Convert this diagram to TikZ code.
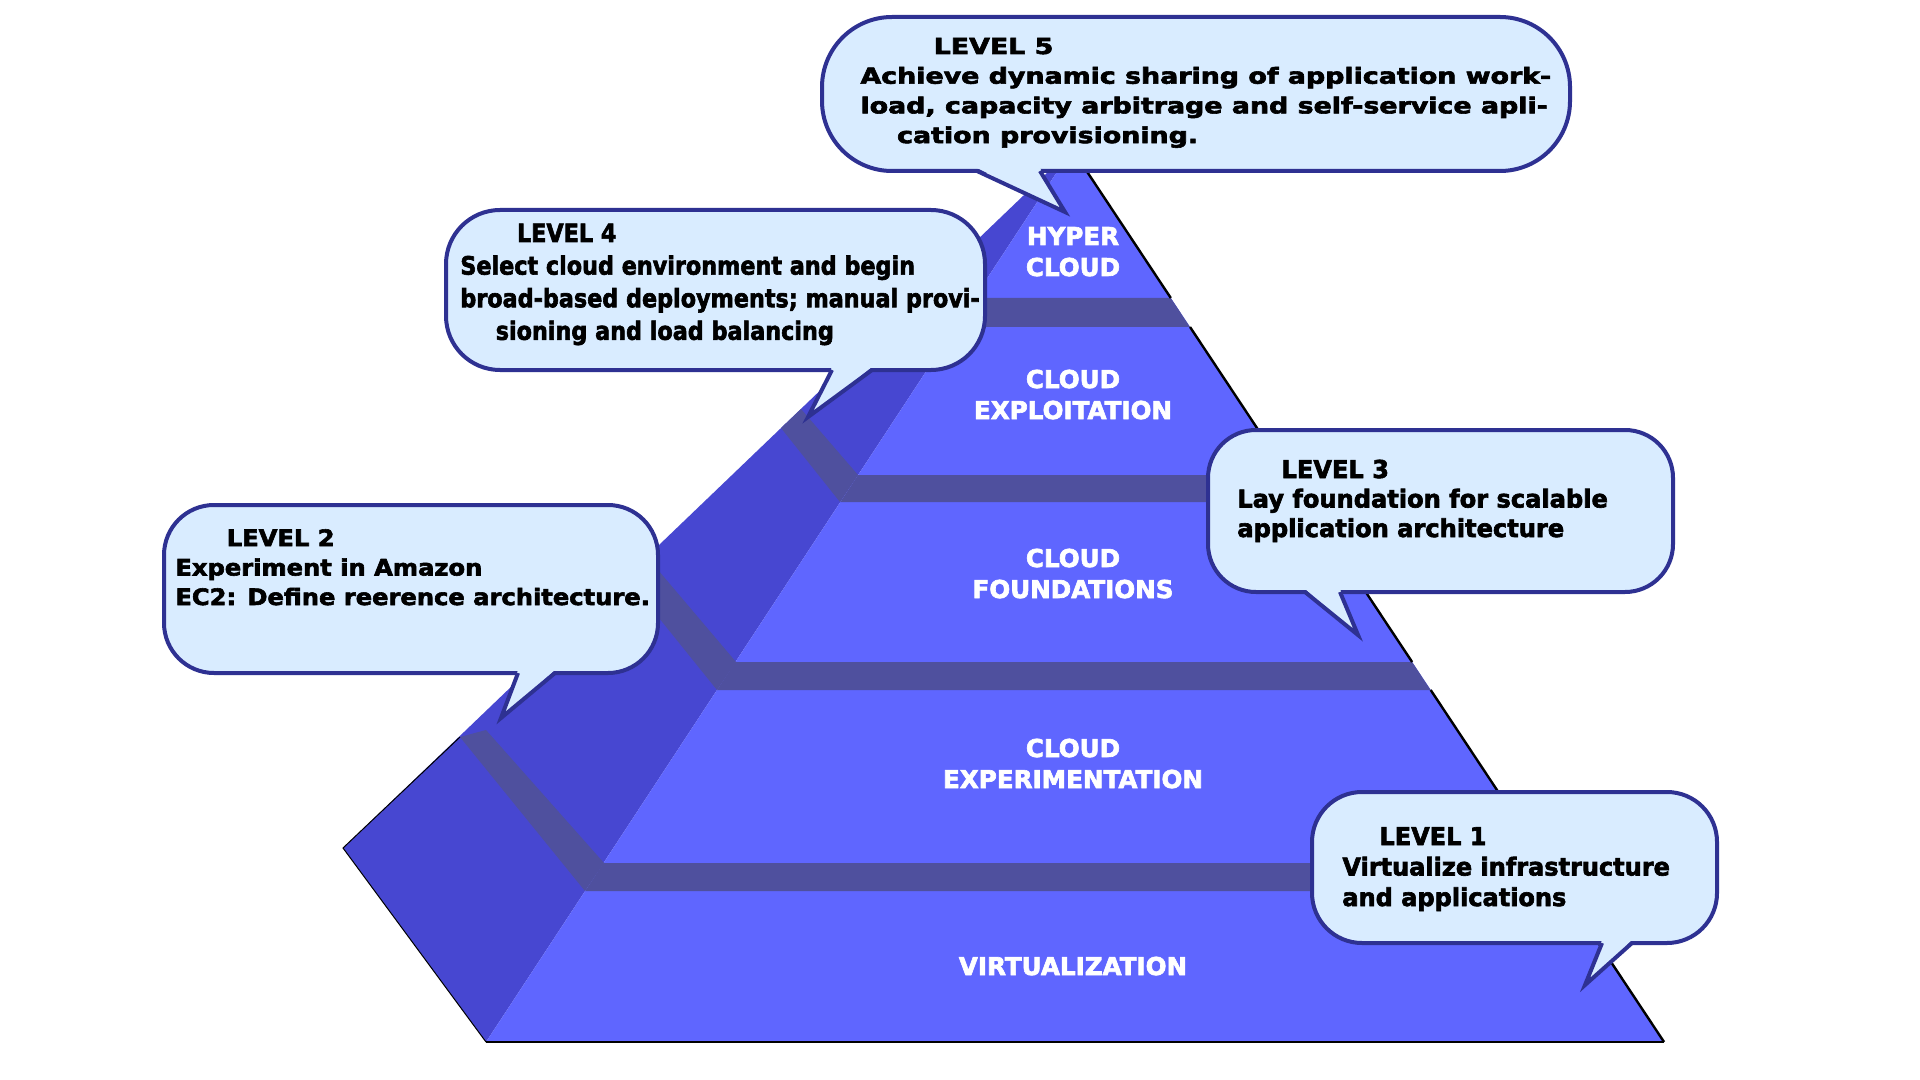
\documentclass[tikz,border=0pt]{standalone}
\usepackage{fontspec}
\setmainfont{DejaVu Sans}[BoldFeatures={FakeBold=2.6}]
\definecolor{frontblue}{RGB}{95,102,255}
\definecolor{sideblue}{RGB}{71,71,209}
\definecolor{bandblue}{RGB}{79,80,158}
\definecolor{bubblefill}{RGB}{217,236,255}
\definecolor{bubbleline}{RGB}{46,49,146}
\begin{document}
\begin{tikzpicture}[x=0.5pt, y=-0.5pt,
  bubble/.style={draw=bubbleline, fill=bubblefill, line width=2pt},
  tailline/.style={draw=bubbleline, line width=2pt, line join=miter},
  layertext/.style={text=white, font=\fontsize{12.3}{15.5}\selectfont\bfseries, inner sep=0pt, anchor=base},
  leveltext/.style={text=black, inner sep=0pt, anchor=base west}]
\useasboundingbox (0,0) rectangle (1920,1080);
\fill [white] (0,0) rectangle (1920,1080);

\fill [sideblue] (1072,149) -- (343,848) -- (486,1042) -- cycle;
\fill [frontblue] (1072,149) -- (486,1042) -- (1664,1042) -- cycle;
\foreach \t/\b in {298/327, 475/502, 662/690, 863/891}
  \fill [bandblue] ({1072-0.656*(\t-149)},\t) -- ({1072+0.663*(\t-149)},\t) -- ({1072+0.663*(\b-149)},\b) -- ({1072-0.656*(\b-149)},\b) -- cycle;
\foreach \a/\b/\c/\d/\e/\f/\g/\h in {974/298/948/268/925/290/955/327, 858/475/801/409/781/428/840/502,
    736/662/647/557/626/577/717/690, 604/863/486/730/460/737/585/891}
  \fill [bandblue] (\a,\b) -- (\c,\d) -- (\e,\f) -- (\g,\h) -- cycle;
\foreach \t/\b in {149/298, 327/475, 502/662, 690/863, 891/1042}
  \draw [black, line width=1.2pt] ({1072+0.663*(\t-149)},\t) -- ({1072+0.663*(\b-149)},\b);
\draw [black, line width=0.8pt] (486,1042) -- (1664,1042);
\draw [black, line width=0.5pt] (460,737) -- (343,848) -- (486,1042);

\node [layertext] (hyper) at (1073,245) {\begin{tabular}[t]{@{}c@{}}HYPER\\CLOUD\end{tabular}};
\node [layertext] (exploit) at (1073,388) {\begin{tabular}[t]{@{}c@{}}CLOUD\\EXPLOITATION\end{tabular}};
\node [layertext] (found) at (1073,567) {\begin{tabular}[t]{@{}c@{}}CLOUD\\FOUNDATIONS\end{tabular}};
\node [layertext] (exper) at (1073,757) {\begin{tabular}[t]{@{}c@{}}CLOUD\\EXPERIMENTATION\end{tabular}};
\node [layertext] (virt) at (1073,975) {VIRTUALIZATION};

\draw [bubble, rounded corners=35pt] (822,17) rectangle (1570,171);
\fill [bubblefill] (977,168) -- (1065,212) -- (1040,168) -- cycle;
\draw [tailline] (977,171) -- (1065,212) -- (1040,171);
\node [leveltext, xscale=1.22, font=\fontsize{11}{14.85}\selectfont\bfseries] (level5) at (860,54)
  {\begin{tabular}[t]{@{}l@{}}\hspace*{30pt}LEVEL 5\\ Achieve dynamic sharing of application work-\\ load, capacity arbitrage and self-service apli-\\ \hspace*{15pt}cation provisioning.\end{tabular}};

\draw [bubble, rounded corners=27pt] (446,210) rectangle (985,370);
\fill [bubblefill] (832,367) -- (808,417) -- (872,367) -- cycle;
\draw [tailline] (832,370) -- (808,417) -- (872,370);
\node [leveltext, xscale=0.885, font=\fontsize{12.6}{16.3}\selectfont\bfseries] (level4) at (460,242)
  {\begin{tabular}[t]{@{}l@{}}\hspace*{32pt}LEVEL 4\\ Select cloud environment and begin\\ broad-based deployments; manual provi-\\ \hspace*{20pt}sioning and load balancing\end{tabular}};

\draw [bubble, rounded corners=25pt] (164,505) rectangle (658,673);
\fill [bubblefill] (518,670) -- (501,718) -- (555,670) -- cycle;
\draw [tailline] (518,673) -- (501,718) -- (555,673);
\node [leveltext, xscale=1.07, font=\fontsize{11.3}{14.75}\selectfont\bfseries] (level2) at (175,546)
  {\begin{tabular}[t]{@{}l@{}}\hspace*{24pt}LEVEL 2\\ Experiment in Amazon\\ EC2: Define reerence architecture.\end{tabular}};

\draw [bubble, rounded corners=24pt] (1208,430) rectangle (1673,592);
\fill [bubblefill] (1305,589) -- (1358,635) -- (1340,589) -- cycle;
\draw [tailline] (1305,592) -- (1358,635) -- (1340,592);
\node [leveltext, xscale=0.98, font=\fontsize{12.3}{14.75}\selectfont\bfseries] (level3) at (1237,478)
  {\begin{tabular}[t]{@{}l@{}}\hspace*{22.5pt}LEVEL 3\\ Lay foundation for scalable\\ application architecture\end{tabular}};

\draw [bubble, rounded corners=25pt] (1312,792) rectangle (1717,943);
\fill [bubblefill] (1602,940) -- (1585,985) -- (1632,940) -- cycle;
\draw [tailline] (1602,943) -- (1585,985) -- (1632,943);
\node [leveltext, xscale=0.976, font=\fontsize{12.3}{15.25}\selectfont\bfseries] (level1) at (1342,845)
  {\begin{tabular}[t]{@{}l@{}}\hspace*{19pt}LEVEL 1\\ Virtualize infrastructure\\ and applications\end{tabular}};
\end{tikzpicture}
\end{document}
